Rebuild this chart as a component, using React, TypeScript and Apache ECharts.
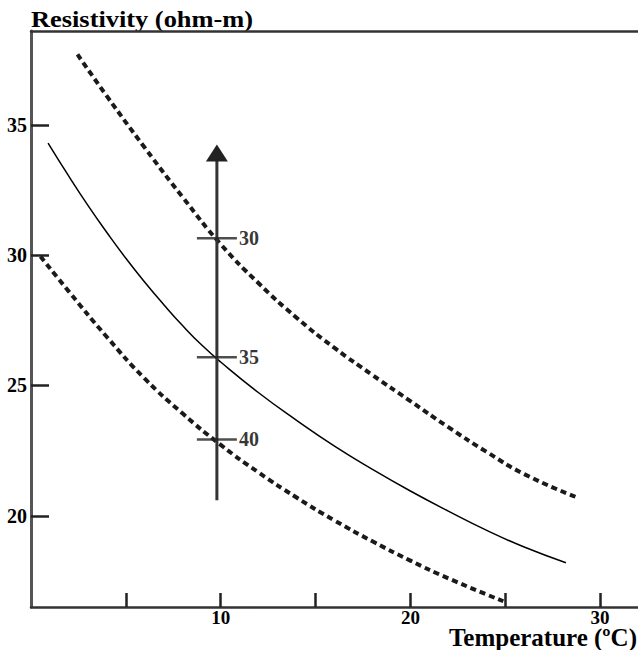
import React, { useEffect, useRef } from "react";
import * as echarts from "echarts";

// Curves (x = temperature °C, y = resistivity ohm-m)
const solidCurve: [number, number][] = [
  [0.9, 34.3], [2, 33.02], [3, 31.91], [4, 30.87], [5, 29.88], [6, 28.96], [7, 28.1],
  [8, 27.29], [9, 26.55], [10, 25.9], [12, 24.72], [14, 23.66], [16, 22.67],
  [18, 21.78], [20, 20.95], [22, 20.18], [24, 19.45], [26, 18.8], [28.2, 18.2],
];
const upperDashed: [number, number][] = [
  [2.45, 37.7], [4, 36.1], [6, 34.12], [8, 32.22], [10, 30.42], [12, 28.92],
  [14, 27.6], [16, 26.44], [18, 25.4], [20, 24.4], [22, 23.4], [24, 22.46],
  [26, 21.6], [28.7, 20.73],
];
const lowerDashed: [number, number][] = [
  [0.5, 29.95], [2, 28.6], [4, 26.86], [6, 25.26], [8, 23.92], [10, 22.72],
  [12, 21.66], [14, 20.7], [16, 19.82], [18, 19.02], [20, 18.28], [22, 17.6], [24.9, 16.72],
];

// Vertical arrow with marked values
const arrowX = 9.8;
const arrowBottom = 20.6;
const arrowTop = 33.92;
const arrowTickValues = [30.65, 26.08, 22.93];
const arrowLabels = ["30", "35", "40"];

// Axis ticks / labels
const xTickValues = [5, 10, 15, 20, 25, 30];
const xLabelValues = [10, 20, 30];
const yTickValues = [20, 25, 30, 35];

const titleText = "Resistivity (ohm-m)";
const xNameText = "Temperature (ºC)";

const FONT = '"Liberation Serif", "Times New Roman", serif';

export default function App() {
  const ref = useRef<HTMLDivElement>(null);
  useEffect(() => {
    document.body.style.margin = "0";
    const chart = echarts.init(ref.current!, undefined, { renderer: "svg" });
    const dashed = {
      type: "line",
      showSymbol: false,
      smooth: 0.5,
      lineStyle: { color: "#1a1a1a", width: 4, type: [6, 4], cap: "butt" },
      z: 3,
    };
    chart.setOption({
      animation: false,
      backgroundColor: "#fff",
      grid: { left: 31, right: 0, top: 31, bottom: 43, containLabel: false },
      xAxis: [
        {
          type: "value",
          min: 0,
          max: 32,
          position: "bottom",
          axisLine: { show: true, lineStyle: { color: "#333", width: 2.5 } },
          axisTick: {
            show: true,
            inside: true,
            length: 14,
            customValues: xTickValues,
            lineStyle: { color: "#222", width: 2.5 },
          },
          axisLabel: {
            show: true,
            customValues: xLabelValues,
            margin: 1,
            color: "#000",
            fontFamily: FONT,
            fontWeight: "bold",
            fontSize: 19,
          },
          splitLine: { show: false },
        },
        {
          type: "value",
          min: 0,
          max: 32,
          position: "top",
          axisLine: { show: true, onZero: false, lineStyle: { color: "#333", width: 2.5 } },
          axisTick: { show: false },
          axisLabel: { show: false },
          splitLine: { show: false },
        },
      ],
      yAxis: {
        type: "value",
        min: 16.5,
        max: 38.6,
        axisLine: { show: true, onZero: false, lineStyle: { color: "#555", width: 3 } },
        axisTick: {
          show: true,
          inside: true,
          length: 18,
          customValues: yTickValues,
          lineStyle: { color: "#222", width: 2.5 },
        },
        axisLabel: {
          show: true,
          customValues: yTickValues,
          margin: 4,
          color: "#000",
          fontFamily: FONT,
          fontWeight: "bold",
          fontSize: 20,
        },
        splitLine: { show: false },
      },
      series: [
        { ...dashed, name: "upper", data: upperDashed },
        { ...dashed, name: "lower", data: lowerDashed },
        {
          type: "line",
          name: "mid",
          showSymbol: false,
          smooth: 0.5,
          lineStyle: { color: "#000", width: 1.5 },
          data: solidCurve,
          z: 3,
        },
        {
          type: "line",
          name: "arrow",
          lineStyle: { color: "#333", width: 3 },
          itemStyle: { color: "#222" },
          data: [
            { value: [arrowX, arrowBottom], symbol: "none" },
            { value: [arrowX, arrowTop], symbol: "triangle", symbolSize: [22, 17] },
          ],
          z: 4,
        },
        {
          type: "scatter",
          name: "arrowTicks",
          symbol: "rect",
          symbolSize: [40, 2.5],
          itemStyle: { color: "#222" },
          data: arrowTickValues.map((v) => [arrowX, v]),
          label: {
            show: true,
            position: "right",
            distance: 2,
            formatter: (p: any) => arrowLabels[p.dataIndex],
            color: "#000",
            fontFamily: FONT,
            fontWeight: "bold",
            fontSize: 20,
          },
          z: 5,
        },
      ],
      graphic: [
        {
          type: "text",
          x: 31,
          y: 19,
          scaleX: 1.1,
          style: {
            text: titleText,
            font: `bold 24px ${FONT}`,
            fill: "#000",
            textAlign: "left",
            textVerticalAlign: "middle",
          },
        },
        {
          type: "text",
          x: 637,
          y: 637,
          style: {
            text: xNameText,
            font: `bold 25px ${FONT}`,
            fill: "#000",
            textAlign: "right",
            textVerticalAlign: "middle",
          },
        },
      ],
    });
    return () => chart.dispose();
  }, []);
  return (
    <div
      ref={ref}
      style={{ width: 638, height: 650, position: "absolute", left: 0, top: 0 }}
    />
  );
}
